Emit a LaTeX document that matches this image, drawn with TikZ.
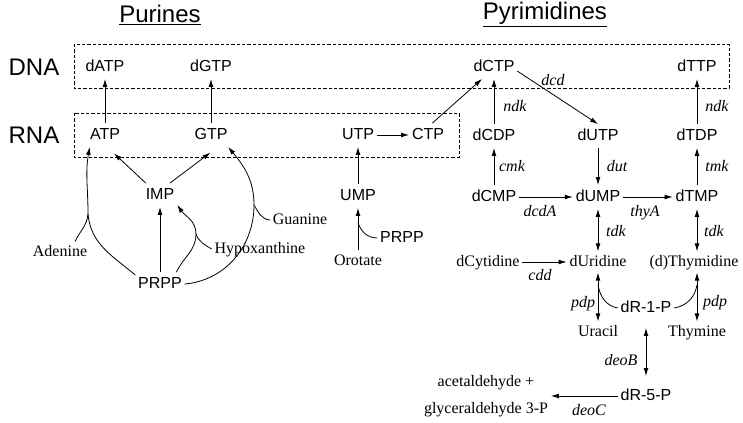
\documentclass[tikz,border=0pt]{standalone}
\usepackage{fontspec}
\setmainfont{Liberation Serif}
\setsansfont{Liberation Sans}
\usetikzlibrary{arrows.meta}

\begin{document}
\begin{tikzpicture}[x=0.75pt,y=0.75pt,yscale=-1,xscale=1,
  met/.style={font=\sffamily\fontsize{12}{14}\selectfont,text height=9pt,text depth=2.5pt,inner xsep=2pt,inner ysep=3pt},
  base/.style={font=\fontsize{12}{14}\selectfont,text height=9pt,text depth=2.5pt,inner xsep=2pt,inner ysep=2pt},
  enz/.style={font=\itshape\fontsize{12}{14}\selectfont,inner sep=1pt},
  lvl/.style={font=\sffamily\fontsize{18}{22}\selectfont,inner sep=1pt},
  tip/.style={-{Latex[length=6pt,width=3.6pt]},line width=0.6pt},
  dtip/.style={{Latex[length=6pt,width=3.6pt]}-{Latex[length=6pt,width=3.6pt]},line width=0.6pt},
  feed/.style={line width=0.6pt},
  layer/.style={dash pattern=on 2.5pt off 1.5pt,line width=0.5pt}]
\useasboundingbox (0,0) rectangle (743,422);

%Shape: Rectangle DNA layer
\draw[layer] (74,44) rectangle (729,88) ;
%Shape: Rectangle RNA layer
\draw[layer] (74,113) rectangle (459,157) ;

% Text Node titles
\node[lvl] (purT) at (160,15) {\underline{Purines}};
\node[lvl] (pyrT) at (545,15) {\underline{Pyrimidines}};
\node[lvl] (DNA) at (34,67) {DNA};
\node[lvl] (RNA) at (34,135) {RNA};

% Text Node purines
\node[met] (dATP) at (105,67) {dATP};
\node[met] (dGTP) at (211,67) {dGTP};
\node[met] (ATP) at (105,135) {ATP};
\node[met] (GTP) at (211,135) {GTP};
\node[met] (IMP) at (160,195) {IMP};
\node[met] (PRPPa) at (160,284) {PRPP};
\node[base] (Adenine) at (60,252) {Adenine};
\node[base] (Hypox) at (260,249) {Hypoxanthine};
\node[base] (Guanine) at (300,220) {Guanine};

% Text Node ribo pyrimidines
\node[met] (UTP) at (358,135) {UTP};
\node[met] (CTP) at (428,135) {CTP};
\node[met] (UMP) at (358,196) {UMP};
\node[met] (PRPPb) at (402,238) {PRPP};
\node[base] (Orotate) at (358,261) {Orotate};

% Text Node deoxy pyrimidines
\node[met] (dCTP) at (494,67) {dCTP};
\node[met] (dTTP) at (697,67) {dTTP};
\node[met] (dCDP) at (494,136) {dCDP};
\node[met] (dUTP) at (598,136) {dUTP};
\node[met] (dTDP) at (697,136) {dTDP};
\node[met] (dCMP) at (494,197) {dCMP};
\node[met] (dUMP) at (598,197) {dUMP};
\node[met] (dTMP) at (697,197) {dTMP};
\node[base] (dCyt) at (488,262) {dCytidine};
\node[base] (dUri) at (598,262) {dUridine};
\node[base] (dThy) at (694,262) {(d)Thymidine};
\node[met] (dR1P) at (646,308) {dR-1-P};
\node[base] (Uracil) at (598,332) {Uracil};
\node[base] (Thymine) at (697,332) {Thymine};
\node[met] (dR5P) at (646,396) {dR-5-P};
\node[font=\fontsize{12}{20}\selectfont,align=center,inner sep=2pt] (prod) at (486,396) {acetaldehyde +\\glyceraldehyde 3-P};

% Text Node enzymes
\node[enz] (dcd) at (553,80) {dcd};
\node[enz] (ndkC) at (515,106) {ndk};
\node[enz] (ndkT) at (717,106) {ndk};
\node[enz] (cmk) at (512,166) {cmk};
\node[enz] (dut) at (617,166) {dut};
\node[enz] (tmk) at (717,166) {tmk};
\node[enz] (dcdA) at (540,211) {dcdA};
\node[enz] (thyA) at (645,213) {thyA};
\node[enz] (tdkU) at (616,231) {tdk};
\node[enz] (tdkT) at (714,231) {tdk};
\node[enz] (cdd) at (540,275) {cdd};
\node[enz] (pdpU) at (583,304) {pdp};
\node[enz] (pdpT) at (715,303) {pdp};
\node[enz] (deoB) at (621,360) {deoB};
\node[enz] (deoC) at (589,410) {deoC};

%Straight Lines purines
\draw[tip] (ATP) -- (dATP) ;
\draw[tip] (GTP) -- (dGTP) ;
\draw[tip,shorten >=7pt] (IMP.140) -- (ATP.-80) ;
\draw[tip,shorten >=7pt] (IMP.50) -- (GTP.-60) ;
\draw[tip] (PRPPa) -- (IMP) ;

%Curve Lines salvage (angles flipped, yscale=-1)
\coordinate (jA) at (88,214);
\coordinate (jH) at (196,234);
\coordinate (jG) at (254,205);
\draw[feed] (PRPPa.160) to[out=-140,in=85] (jA) ;
\draw[feed] (Adenine.35) to[out=-65,in=95] (jA) ;
\draw[tip] (jA) to[out=-90,in=100] (ATP.218) ;
\draw[feed] (PRPPa.36) to[out=-65,in=90] (jH) ;
\draw[feed] (Hypox.west) to[out=-150,in=70] (jH) ;
\draw[tip] (jH) to[out=-90,in=55] (IMP.-30) ;
\draw[feed] (PRPPa.east) to[out=-5,in=90] (jG) ;
\draw[feed] (Guanine.west) to[out=-175,in=60] (jG) ;
\draw[tip] (jG) to[out=-90,in=50] (GTP.-35) ;

%Straight Lines ribo pyrimidines
\coordinate (jU) at (358,223);
\draw[tip] (Orotate) -- (UMP) ;
\draw[feed] (PRPPb.west) to[out=180,in=70] (jU) ;
\draw[tip] (UMP) -- (UTP) ;
\draw[tip] (UTP) -- (CTP) ;
\draw[tip] (CTP.70) -- (dCTP.225) ;

%Straight Lines deoxy pyrimidines
\draw[tip] (dCDP) -- (dCTP) ;
\draw[tip] (dCTP.-10) -- (dUTP.north) ;
\draw[tip] (dUTP) -- (dUMP) ;
\draw[tip] (dCMP) -- (dCDP) ;
\draw[tip] (dCMP) -- (dUMP) ;
\draw[tip] (dUMP) -- (dTMP) ;
\draw[tip] (dTMP) -- (dTDP) ;
\draw[tip] (dTDP) -- (dTTP) ;
\draw[dtip] (dUMP) -- (dUri) ;
\draw[dtip] (dTMP) -- (dThy.north -| dTMP) ;
\draw[tip] (dCyt) -- (dUri) ;
\draw[dtip] (dUri) -- (Uracil) ;
\draw[dtip] (dThy.south -| Thymine) -- (Thymine) ;

%Curve Lines deoxyribose
\coordinate (jL) at (598,285);
\coordinate (jR) at (697,285);
\draw[feed] (dR1P.west) to[out=-170,in=80] (jL) ;
\draw[feed] (dR1P.east) to[out=-10,in=100] (jR) ;
\draw[dtip,shorten <=6pt,shorten >=6pt] (dR1P) -- (dR5P) ;
\draw[tip] (dR5P) -- (prod) ;

\end{tikzpicture}
\end{document}
